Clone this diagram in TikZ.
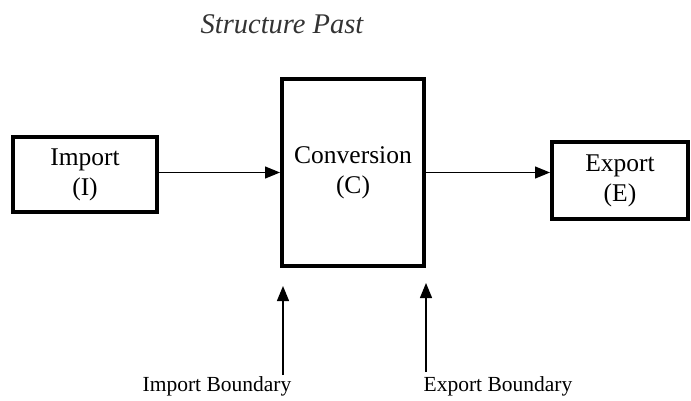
\documentclass[tikz,border=0pt]{standalone}
\usepackage{fontspec}
\setmainfont{Liberation Serif}
\usetikzlibrary{arrows.meta}
\begin{document}
\begin{tikzpicture}[x=1pt,y=-1pt,
  box/.style={draw,line width=4pt,inner sep=0pt,align=center,font=\fontsize{25.5}{30}\selectfont},
  arr/.style={line width=1.3pt,-{Triangle[length=15pt,width=12pt]}},
  lbl/.style={font=\fontsize{21.5}{25}\selectfont,inner sep=0pt}]
\useasboundingbox (0,0) rectangle (691,401);
\node[font=\fontsize{28.5}{32}\selectfont\itshape,text=black!80] (title) at (282,24) {Structure Past};
\node[box,minimum width=144pt,minimum height=75pt] (imp) at (85,174.5) {Import\\(I)};
\node[box,minimum width=142pt,minimum height=187pt] (conv) at (353,172.5) {Conversion\\(C)};
\node[box,minimum width=136pt,minimum height=77pt] (exp) at (620,180.5) {Export\\(E)};
\draw[arr] (imp.east |- conv.west) -- (conv.west);
\draw[arr] (conv.east) -- (exp.west |- conv.east);
\node[lbl] (ibl) at (217,386) {Import Boundary};
\node[lbl] (ebl) at (498,386) {Export Boundary};
\coordinate (ib) at (283,375);
\coordinate (ibt) at (283,286);
\coordinate (eb) at (426,372);
\coordinate (ebt) at (426,283);
\draw[arr] (ib) -- (ibt);
\draw[arr] (eb) -- (ebt);
\end{tikzpicture}
\end{document}
